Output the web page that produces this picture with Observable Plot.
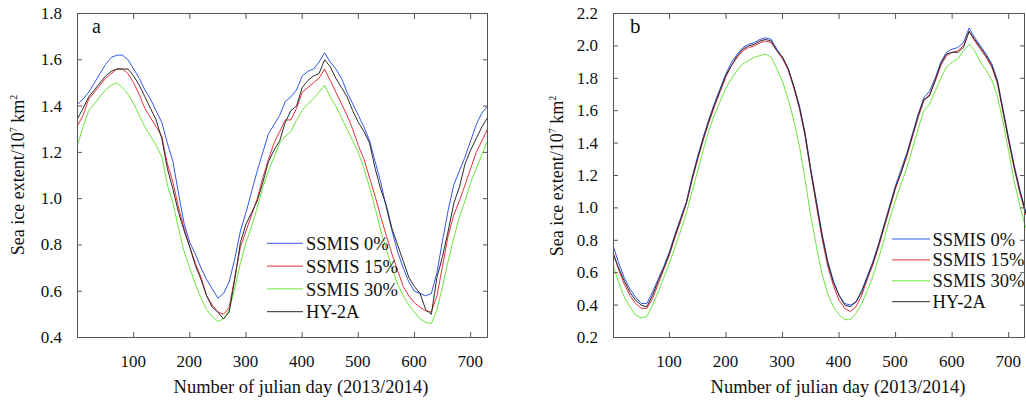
<!DOCTYPE html>
<html><head><meta charset="utf-8">
<script src="https://cdn.jsdelivr.net/npm/d3@7"></script>
<script src="https://cdn.jsdelivr.net/npm/@observablehq/plot@0.6"></script>
<style>
body{margin:0;background:#fff;}
#stage{position:relative;width:1026px;height:401px;overflow:hidden;font-family:"Liberation Serif","DejaVu Serif",serif;color:#111;}
#wrap{display:flex;width:1026px;height:401px;}
.t{position:absolute;white-space:nowrap;line-height:1;}
.c{transform:translate(-50%,-50%);}
.r{transform:translate(-50%,-50%) rotate(-90deg);}
.yl{transform:translate(-100%,-50%);}
.t sup{font-size:0.55em;vertical-align:0.75em;line-height:0;}
.leg{position:absolute;white-space:nowrap;line-height:1;font-size:18.5px;transform:translateY(-50%);}
</style></head><body>
<div id="stage">
<div id="wrap"></div>
<div class="t" style="left:92px;top:16px;font-size:20px;">a</div>
<div class="t" style="left:630px;top:15.5px;font-size:21px;">b</div>
<div class="t r" style="left:18px;top:175px;font-size:18px;">Sea ice extent/10<sup>7</sup> km<sup>2</sup></div>
<div class="t r" style="left:557px;top:176px;font-size:18px;">Sea ice extent/10<sup>7</sup> km<sup>2</sup></div>
<div class="t c" style="left:301px;top:387px;font-size:18.5px;">Number of julian day (2013/2014)</div>
<div class="t c" style="left:838px;top:387px;font-size:18.5px;">Number of julian day (2013/2014)</div>

<div class="leg" style="left:306px;top:243.5px;">SSMIS 0%</div>
<div class="leg" style="left:306px;top:266.5px;">SSMIS 15%</div>
<div class="leg" style="left:306px;top:289.5px;">SSMIS 30%</div>
<div class="leg" style="left:306px;top:312px;">HY-2A</div>

<div class="leg" style="left:932.5px;top:239.5px;">SSMIS 0%</div>
<div class="leg" style="left:932.5px;top:259.5px;">SSMIS 15%</div>
<div class="leg" style="left:932.5px;top:280.5px;">SSMIS 30%</div>
<div class="leg" style="left:932.5px;top:302px;">HY-2A</div>
</div>
<script>
const days = [1,10,20,30,40,50,60,70,80,90,100,110,120,130,140,150,160,170,180,190,200,210,220,230,240,250,260,270,280,290,300,310,320,330,340,350,360,370,380,390,400,410,420,430,440,450,460,470,480,490,500,510,520,530,540,550,560,570,580,590,600,610,620,630,640,650,660,670,680,690,700,710,720,730];

const seriesNames = ["SSMIS 0%", "SSMIS 15%", "SSMIS 30%", "HY-2A"];
const seriesColors = ["#3158e6", "#e6323c", "#6be63a", "#2b2b2b"];

// Panel a
const a_ssmis0 = [1.41,1.43,1.46,1.50,1.54,1.58,1.61,1.62,1.62,1.60,1.56,1.52,1.47,1.43,1.38,1.33,1.24,1.16,1.02,0.89,0.81,0.76,0.70,0.65,0.61,0.57,0.59,0.64,0.74,0.86,0.94,1.03,1.12,1.20,1.28,1.32,1.36,1.42,1.44,1.47,1.53,1.55,1.56,1.59,1.63,1.59,1.56,1.52,1.46,1.41,1.36,1.31,1.25,1.16,1.07,0.96,0.86,0.77,0.70,0.64,0.60,0.59,0.58,0.59,0.68,0.82,0.95,1.06,1.12,1.18,1.25,1.32,1.37,1.40];
const a_ssmis15 = [1.32,1.36,1.43,1.46,1.49,1.52,1.54,1.56,1.56,1.54,1.50,1.45,1.39,1.35,1.31,1.27,1.15,1.07,0.96,0.87,0.79,0.72,0.66,0.58,0.54,0.51,0.50,0.53,0.66,0.79,0.86,0.93,1.00,1.09,1.17,1.24,1.29,1.34,1.34,1.39,1.46,1.48,1.50,1.52,1.56,1.51,1.46,1.41,1.36,1.30,1.23,1.17,1.09,1.01,0.92,0.84,0.76,0.69,0.62,0.58,0.55,0.53,0.515,0.51,0.58,0.71,0.84,0.93,0.99,1.06,1.13,1.20,1.25,1.30];
const a_ssmis30 = [1.24,1.31,1.38,1.41,1.44,1.47,1.49,1.50,1.48,1.45,1.41,1.36,1.31,1.27,1.23,1.18,1.06,0.98,0.87,0.77,0.70,0.63,0.57,0.52,0.49,0.47,0.48,0.52,0.61,0.72,0.81,0.88,0.96,1.05,1.12,1.18,1.24,1.27,1.29,1.34,1.38,1.41,1.43,1.46,1.49,1.44,1.40,1.35,1.30,1.25,1.20,1.13,1.05,0.96,0.86,0.78,0.70,0.63,0.58,0.54,0.51,0.48,0.465,0.46,0.52,0.62,0.73,0.83,0.92,0.99,1.07,1.13,1.19,1.25];
const a_hy2a = [1.35,1.39,1.44,1.47,1.50,1.53,1.55,1.56,1.56,1.56,1.53,1.49,1.44,1.39,1.34,1.26,1.13,1.04,0.94,0.86,0.79,0.71,0.65,0.58,0.53,0.51,0.48,0.51,0.65,0.81,0.89,0.94,0.99,1.07,1.16,1.21,1.25,1.33,1.38,1.40,1.48,1.51,1.53,1.54,1.60,1.57,1.52,1.48,1.44,1.38,1.33,1.29,1.24,1.13,1.04,0.97,0.87,0.80,0.73,0.66,0.62,0.59,0.52,0.50,0.66,0.75,0.86,0.98,1.05,1.15,1.21,1.26,1.31,1.35];

// Panel b
const b_ssmis0 = [0.76,0.66,0.57,0.50,0.45,0.41,0.41,0.48,0.56,0.64,0.73,0.84,0.94,1.04,1.19,1.32,1.44,1.55,1.65,1.74,1.83,1.90,1.95,1.99,2.01,2.02,2.04,2.05,2.04,1.98,1.93,1.86,1.75,1.63,1.46,1.24,1.04,0.84,0.67,0.55,0.46,0.41,0.40,0.42,0.49,0.58,0.67,0.78,0.90,1.02,1.14,1.24,1.34,1.46,1.58,1.68,1.72,1.80,1.90,1.96,1.98,1.99,2.02,2.11,2.05,2.00,1.95,1.89,1.79,1.61,1.43,1.26,1.11,0.98];
const b_ssmis15 = [0.72,0.62,0.53,0.46,0.41,0.38,0.38,0.44,0.53,0.62,0.71,0.82,0.92,1.03,1.17,1.30,1.42,1.53,1.63,1.72,1.81,1.88,1.93,1.97,1.99,2.00,2.02,2.03,2.02,1.97,1.92,1.85,1.74,1.61,1.44,1.22,1.01,0.81,0.64,0.52,0.43,0.38,0.36,0.39,0.46,0.56,0.65,0.76,0.88,1.00,1.12,1.22,1.32,1.44,1.56,1.66,1.70,1.78,1.88,1.94,1.96,1.97,2.00,2.09,2.03,1.98,1.93,1.87,1.77,1.59,1.41,1.24,1.09,0.96];
const b_ssmis30 = [0.64,0.54,0.45,0.39,0.34,0.32,0.33,0.40,0.48,0.57,0.66,0.76,0.86,0.97,1.10,1.23,1.36,1.48,1.58,1.66,1.74,1.80,1.85,1.89,1.91,1.93,1.94,1.95,1.93,1.86,1.78,1.67,1.54,1.38,1.17,0.95,0.76,0.59,0.47,0.39,0.34,0.31,0.31,0.35,0.41,0.49,0.58,0.69,0.81,0.94,1.05,1.15,1.25,1.37,1.49,1.60,1.64,1.72,1.80,1.87,1.90,1.92,1.97,2.01,1.97,1.90,1.85,1.79,1.69,1.53,1.35,1.16,1.01,0.88];
const b_hy2a = [0.71,0.63,0.55,0.48,0.43,0.40,0.39,0.46,0.55,0.63,0.72,0.83,0.93,1.03,1.18,1.31,1.43,1.54,1.64,1.73,1.82,1.88,1.94,1.98,2.00,2.01,2.03,2.04,2.03,1.97,1.93,1.86,1.75,1.62,1.45,1.23,1.03,0.83,0.66,0.54,0.46,0.40,0.39,0.42,0.48,0.57,0.66,0.77,0.89,1.01,1.13,1.22,1.33,1.45,1.57,1.67,1.69,1.79,1.89,1.95,1.96,1.96,1.99,2.09,2.04,1.99,1.94,1.88,1.78,1.60,1.42,1.25,1.10,0.97];

const xTicks = [100,200,300,400,500,600,700];
const yTicksA = [0.4,0.6,0.8,1.0,1.2,1.4,1.6,1.8];
const yTicksB = [0.2,0.4,0.6,0.8,1.0,1.2,1.4,1.6,1.8,2.0,2.2];

function rows(values, name) { return days.map((d, i) => ({day: d, value: values[i], series: name})); }

const stage = document.getElementById("stage");
const fmt = d3.format(".1f");

function panel({series, xDomain, yDomain, yTicks, mL, mR, legend, offset}) {
  const lines = series.map((vals, i) => Plot.line(rows(vals, seriesNames[i]), {x: "day", y: "value", stroke: seriesColors[i], strokeWidth: 1}));
  const chart = Plot.plot({
    width: 513, height: 401,
    marginLeft: mL, marginRight: mR, marginTop: 13, marginBottom: 64,
    x: {domain: xDomain},
    y: {domain: yDomain},
    marks: [
      ...lines,
      Plot.frame({stroke: "#555"}),
      Plot.axisY(yTicks, {anchor: "left", tickSize: -5, tickFormat: () => "", label: null, stroke: "#555"}),
      Plot.axisY(yTicks, {anchor: "right", tickSize: -5, tickFormat: () => "", label: null, stroke: "#555"}),
      Plot.axisX(xTicks, {anchor: "bottom", tickSize: -5, tickFormat: () => "", label: null, stroke: "#555"}),
      Plot.axisX(xTicks, {anchor: "top", tickSize: -5, tickFormat: () => "", label: null, stroke: "#555"})
    ]
  });
  const svg = d3.select(chart);
  const g = svg.append("g");
  seriesColors.forEach((c, i) => {
    const y = legend.y0 + i * legend.dy;
    g.append("line").attr("x1", legend.x1).attr("x2", legend.x2).attr("y1", y).attr("y2", y)
      .attr("stroke", c).attr("stroke-width", 1);
  });
  // tick labels placed with the chart's own scales
  const sx = chart.scale("x"), sy = chart.scale("y");
  yTicks.forEach(v => {
    const d = document.createElement("div");
    d.className = "t yl";
    d.style.left = (offset + mL - 15) + "px";
    d.style.top = sy.apply(v) + "px";
    d.style.fontSize = "17px";
    d.textContent = fmt(v);
    stage.appendChild(d);
  });
  xTicks.forEach(v => {
    const d = document.createElement("div");
    d.className = "t c";
    d.style.left = (offset + sx.apply(v)) + "px";
    d.style.top = "361px";
    d.style.fontSize = "17px";
    d.textContent = String(v);
    stage.appendChild(d);
  });
  return chart;
}

const wrap = document.getElementById("wrap");
wrap.appendChild(panel({
  series: [a_ssmis0, a_ssmis15, a_ssmis30, a_hy2a],
  xDomain: [0, 730], yDomain: [0.4, 1.8], yTicks: yTicksA, mL: 77, mR: 26,
  legend: {x1: 267, x2: 303, y0: 243.3, dy: 22.8}, offset: 0
}));
wrap.appendChild(panel({
  series: [b_ssmis0, b_ssmis15, b_ssmis30, b_hy2a],
  xDomain: [1, 728], yDomain: [0.2, 2.2], yTicks: yTicksB, mL: 100, mR: 2,
  legend: {x1: 379, x2: 417, y0: 239, dy: 20.9}, offset: 513
}));
</script></body></html>
